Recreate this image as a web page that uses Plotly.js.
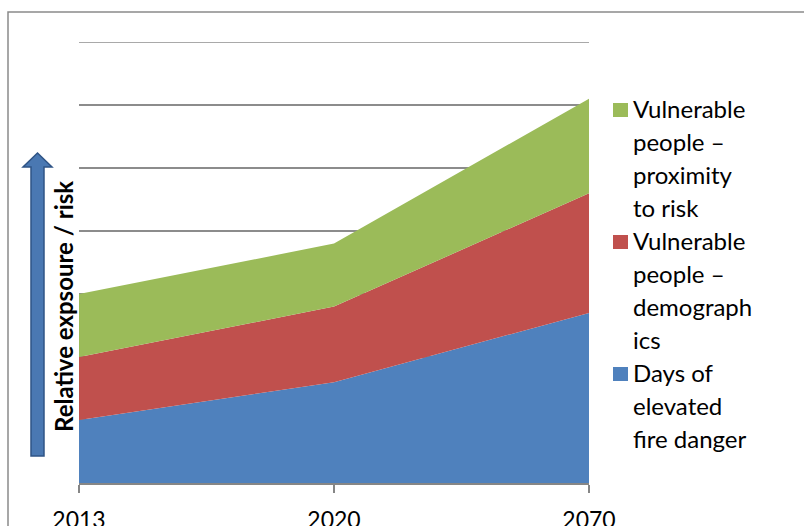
<!DOCTYPE html>
<html>
<head>
<meta charset="utf-8">
<script src="https://cdn.plot.ly/plotly-3.0.1.min.js"></script>
<style>html,body{margin:0;padding:0;background:#fff;}#chart{width:804px;height:526px;}</style>
</head>
<body>
<div id="chart"></div>
<script>
var years = ['2013', '2020', '2070'];
var daysElevated = [1.0, 1.6, 2.7];
var demographics = [1.0, 1.2, 1.9];
var proximity = [1.0, 1.0, 1.5];
var seriesNames = ['Days of elevated fire danger', 'Vulnerable people – demographics', 'Vulnerable people – proximity to risk'];
var legendLines = [
  ['Vulnerable', 'people –', 'proximity', 'to risk'],
  ['Vulnerable', 'people –', 'demograph', 'ics'],
  ['Days of', 'elevated', 'fire danger']
];
var yTitle = 'Relative expsoure / risk';

var colors = {blue: '#4f81bd', red: '#c0504d', green: '#9bbb59'};

// plot area geometry (pixels)
var L = 79, R = 589, T = 42, B = 483, W = 804, H = 526;
function px(x) { return (x - L) / (R - L); }
function py(y) { return (B - y) / (B - T); }

var traces = [
  {x: years, y: daysElevated, name: seriesNames[0], stackgroup: 'one', mode: 'none', fillcolor: colors.blue, line: {width: 0}},
  {x: years, y: demographics, name: seriesNames[1], stackgroup: 'one', mode: 'none', fillcolor: colors.red, line: {width: 0}},
  {x: years, y: proximity, name: seriesNames[2], stackgroup: 'one', mode: 'none', fillcolor: colors.green, line: {width: 0}}
];

var fontFam = 'Lato, "Open Sans", sans-serif';
var shapes = [];
var annotations = [];

// border
shapes.push({type: 'rect', xref: 'paper', yref: 'paper', x0: px(8), x1: px(812), y0: py(540), y1: py(12),
  line: {color: '#8a8a8a', width: 1.5}, fillcolor: 'rgba(0,0,0,0)', layer: 'below'});

// top gridline (range edge)
shapes.push({type: 'line', xref: 'paper', yref: 'y', x0: 0, x1: 1, y0: 7, y1: 7,
  line: {color: '#8c8c8c', width: 1.5}, layer: 'below'});

// arrow
var ap = [[31,456],[31,167],[23,167],[37.5,153],[52,167],[44,167],[44,456]];
var path = 'M ' + ap.map(function(p){ return px(p[0]).toFixed(5) + ',' + py(p[1]).toFixed(5); }).join(' L ') + ' Z';
shapes.push({type: 'path', xref: 'paper', yref: 'paper', path: path, fillcolor: '#4a78b2', line: {color: '#2f5486', width: 1.5}});

annotations.push({xref: 'paper', yref: 'paper', x: px(64), y: py(307), text: '<b>' + yTitle + '</b>', textangle: -90,
  showarrow: false, xanchor: 'center', yanchor: 'middle', font: {family: fontFam, size: 24, color: '#000'}});

// legend
var legColors = [colors.green, colors.red, colors.blue];
var baseline = 117, step = 33;
var line = 0;
for (var i = 0; i < legendLines.length; i++) {
  shapes.push({type: 'rect', xref: 'paper', yref: 'paper', x0: px(613), x1: px(628), y0: py(baseline + line*step), y1: py(baseline + line*step - 14),
    fillcolor: legColors[i], line: {width: 0}});
  for (var j = 0; j < legendLines[i].length; j++) {
    annotations.push({xref: 'paper', yref: 'paper', x: px(631), y: py(baseline + line*step - 9), text: legendLines[i][j],
      showarrow: false, xanchor: 'left', yanchor: 'middle', font: {family: fontFam, size: 24, color: '#000'}});
    line++;
  }
}

var layout = {
  width: W, height: H,
  margin: {l: L, r: W - R, t: T, b: H - B, pad: 0},
  paper_bgcolor: '#fff', plot_bgcolor: '#fff',
  showlegend: false,
  xaxis: {type: 'category', range: [0, 2], showgrid: false, showline: true, linecolor: '#868686', linewidth: 1.5,
    ticks: 'outside', ticklen: 8, tickcolor: '#868686', tickwidth: 1.5, ticklabelstandoff: 8,
    tickfont: {family: fontFam, size: 23, color: '#000'}, zeroline: false},
  yaxis: {range: [0, 7], dtick: 1, showgrid: true, gridcolor: '#8c8c8c', gridwidth: 1.5,
    showticklabels: false, zeroline: false, showline: false, ticks: ''},
  shapes: shapes,
  annotations: annotations
};

Plotly.newPlot('chart', traces, layout, {displayModeBar: false, staticPlot: true});
</script>
</body>
</html>
